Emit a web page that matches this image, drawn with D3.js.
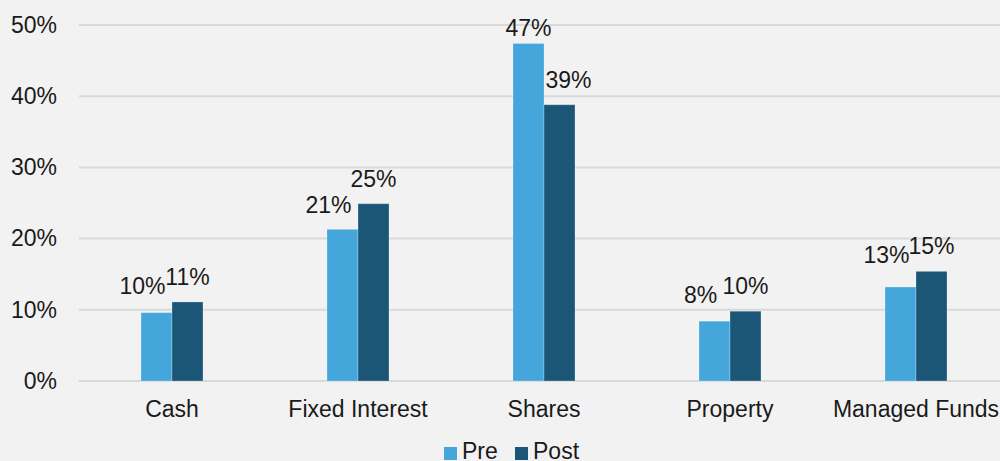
<!DOCTYPE html>
<html>
<head>
<meta charset="utf-8">
<script src="https://cdn.jsdelivr.net/npm/d3@7"></script>
<style>
  body { margin: 0; background: #f2f2f2; }
  svg { display: block; }
</style>
</head>
<body>
<div id="chart"></div>
<script>
var categories = ['Cash', 'Fixed Interest', 'Shares', 'Property', 'Managed Funds'];
var seriesNames = ['Pre', 'Post'];
var preValues = [9.6, 21.3, 47.4, 8.4, 13.2];
var postValues = [11.1, 24.9, 38.8, 9.8, 15.4];
var labelsPre = ['10%', '21%', '47%', '8%', '13%'];
var labelsPost = ['11%', '25%', '39%', '10%', '15%'];
var yTicks = [0, 10, 20, 30, 40, 50];

var colors = { Pre: '#44a6da', Post: '#1b5677' };
var fontFam = '"Liberation Sans", Arial, sans-serif';
var fontSize = 23;

var outerWidth = 1000;
var outerHeight = 461;
var margin = { left: 79, top: 25, right: -9, bottom: 80 };
var innerWidth = outerWidth - margin.left - margin.right;
var innerHeight = outerHeight - margin.top - margin.bottom;

var rows = categories.map(function (c, i) {
    return { cat: c, Pre: preValues[i], Post: postValues[i], lPre: labelsPre[i], lPost: labelsPost[i] };
});

var svg = d3.select('#chart').append('svg')
    .attr('width', outerWidth)
    .attr('height', outerHeight)
    .style('font-family', fontFam);

svg.append('rect').attr('width', outerWidth).attr('height', outerHeight).attr('fill', '#f2f2f2');

var g = svg.append('g')
    .attr('transform', 'translate(' + margin.left + ',' + margin.top + ')');

var xScale = d3.scaleBand().domain(categories).range([0, innerWidth]);
var yScale = d3.scaleLinear().domain([0, 50]).range([innerHeight, 0]);
var barW = xScale.bandwidth() / 6;
var xInner = d3.scaleBand().domain(seriesNames)
    .range([xScale.bandwidth() / 2 - barW, xScale.bandwidth() / 2 + barW]);

// grid lines
g.append('g').selectAll('line')
    .data(yTicks)
    .enter().append('line')
    .attr('x1', 0)
    .attr('x2', innerWidth)
    .attr('y1', function (d) { return yScale(d); })
    .attr('y2', function (d) { return yScale(d); })
    .attr('stroke', '#d9d9d9')
    .attr('stroke-width', 2);

// y axis
var yAxis = d3.axisLeft(yScale)
    .tickValues(yTicks)
    .tickSize(0)
    .tickPadding(22)
    .tickFormat(function (d) { return d + '%'; });
var yAxisG = g.append('g').call(yAxis);
yAxisG.select('.domain').remove();
yAxisG.selectAll('text').attr('font-size', fontSize).attr('fill', '#1a1a1a')
    .attr('font-family', fontFam);

// x axis
var xAxis = d3.axisBottom(xScale).tickSize(0).tickPadding(20);
var xAxisG = g.append('g')
    .attr('transform', 'translate(0,' + innerHeight + ')')
    .call(xAxis);
xAxisG.select('.domain').remove();
xAxisG.selectAll('text').attr('font-size', fontSize).attr('fill', '#1a1a1a')
    .attr('font-family', fontFam);

// bars
var groups = g.append('g').selectAll('g')
    .data(rows)
    .enter().append('g')
    .attr('transform', function (d) { return 'translate(' + xScale(d.cat) + ',0)'; });

groups.selectAll('rect')
    .data(function (d) { return seriesNames.map(function (k) { return { key: k, value: d[k] }; }); })
    .enter().append('rect')
    .attr('x', function (d) { return xInner(d.key); })
    .attr('width', xInner.bandwidth())
    .attr('y', function (d) { return yScale(d.value); })
    .attr('height', function (d) { return innerHeight - yScale(d.value); })
    .attr('fill', function (d) { return colors[d.key]; })
    .attr('stroke', '#ffffff')
    .attr('stroke-opacity', 0.25)
    .attr('stroke-width', 1);

// data labels - nudged apart like Excel does when they crowd
function postY(d) { return yScale(d.Post) - 17; }
function preY(d) {
    if (d.Pre > d.Post) return yScale(d.Pre) - 8;
    var y = yScale(d.Pre) - 16;
    return (y - postY(d) < 20) ? postY(d) + 9 : y;
}

groups.append('text')
    .attr('x', function (d) {
        var cx = xInner('Pre') + xInner.bandwidth() / 2;
        return d.Pre > d.Post ? cx : cx - 14;
    })
    .attr('y', preY)
    .attr('text-anchor', 'middle')
    .attr('font-size', fontSize)
    .attr('fill', '#1a1a1a')
    .text(function (d) { return d.lPre; });

groups.append('text')
    .attr('x', function (d) {
        var cx = xInner('Post') + xInner.bandwidth() / 2;
        return d.Pre > d.Post ? cx + 9 : cx;
    })
    .attr('y', postY)
    .attr('text-anchor', 'middle')
    .attr('font-size', fontSize)
    .attr('fill', '#1a1a1a')
    .text(function (d) { return d.lPost; });

// legend
var legend = svg.append('g').attr('transform', 'translate(444,447)');
var items = legend.selectAll('g')
    .data(seriesNames)
    .enter().append('g')
    .attr('transform', function (d, i) { return 'translate(' + (i * 71) + ',0)'; });
items.append('rect')
    .attr('width', 13).attr('height', 13)
    .attr('fill', function (d) { return colors[d]; });
items.append('text')
    .attr('x', 18).attr('y', 12)
    .attr('font-size', fontSize)
    .attr('fill', '#1a1a1a')
    .text(function (d) { return d; });
</script>
</body>
</html>
